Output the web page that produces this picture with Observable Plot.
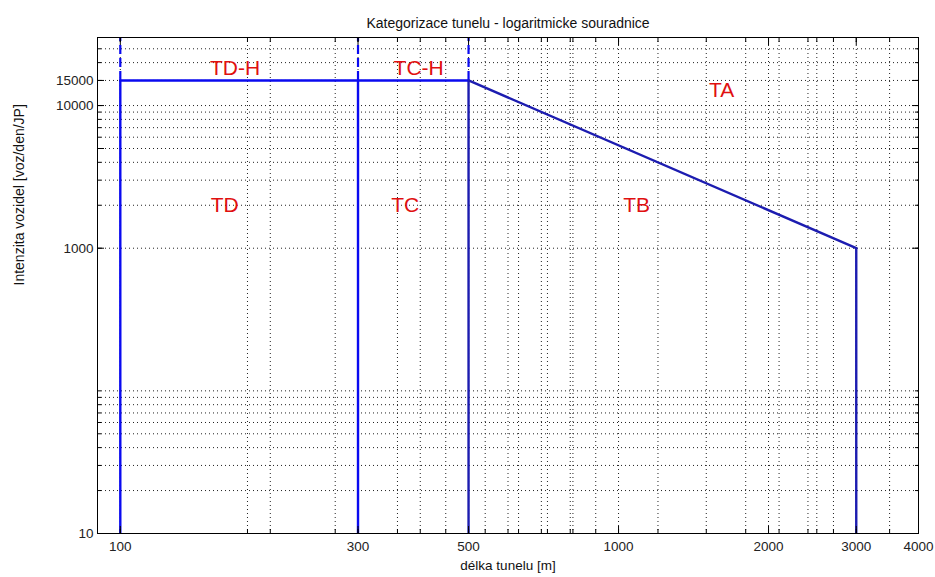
<!DOCTYPE html>
<html>
<head>
<meta charset="utf-8">
<script src="https://cdn.jsdelivr.net/npm/d3@7"></script>
<script src="https://cdn.jsdelivr.net/npm/@observablehq/plot@0.6"></script>
<style>
  html, body { margin: 0; padding: 0; background: #fff; }
  #chart svg { display: block; }
</style>
</head>
<body>
<div id="chart"></div>
<script>
// ---- data ----
const titleText = "Kategorizace tunelu - logaritmicke souradnice";
const xLabel = "délka tunelu [m]";
const yLabel = "Intenzita vozidel [voz/den/JP]";

const xDomain = [90, 4000];
const yDomain = [10, 30000];

const xTickLabels = [100, 300, 500, 1000, 2000, 3000, 4000];
const yTickLabels = [10, 1000, 5000, 10000, 15000];

const xGrid = [100, 180, 200, 270, 300, 360, 400, 450, 500, 540, 600, 630, 700, 720, 800, 810, 900,
               1000, 1200, 1500, 1800, 2000, 2100, 2400, 2500, 2700, 3000, 3500];
const yGrid = [20, 30, 40, 50, 60, 70, 80, 90, 100,
               1000, 2000, 3000, 4000, 5000, 6000, 7000, 8000, 9000, 10000, 15000, 20000, 25000];

// boundary lines
const boundX = [100, 300, 500];         // vertical limits
const boundLow = 10;                      // bottom of verticals
const boundHigh = 15000;                  // top of solid verticals
const boundTop = 30000;                   // dashed continuation
const capX = [100, 500];                  // horizontal at 15000
const capY = [15000, 15000];
const slopeX = [500, 3000];
const slopeY = [15000, 1000];
const endX = [3000];
const endY1 = [10];
const endY2 = [1000];

// zone labels
const zoneNames = ["TD-H", "TC-H", "TA", "TD", "TC", "TB"];
const zoneX = [170, 397, 1610, 162, 373, 1087];
const zoneY = [18200, 18200, 12800, 2000, 2000, 2000];

// ---- build ----
const zones = zoneNames.map((n, i) => ({name: n, x: zoneX[i], y: zoneY[i]}));
const verts = boundX.map(x => ({x, y1: boundLow, y2: boundHigh, y3: boundTop}));
const cap = capX.map((x, i) => ({x, y: capY[i]}));
const slope = slopeX.map((x, i) => ({x, y: slopeY[i]}));
const ends = endX.map((x, i) => ({x, y1: endY1[i], y2: endY2[i]}));

const font = "Liberation Sans, Arial, Helvetica, sans-serif";
const blue = "#0a0af0";
const navy = "#1c1cb0";
const gridStyle = {stroke: "#222", strokeDasharray: "1,3", strokeWidth: 1};
const tickStyle = {tickFormat: () => "", stroke: "#000", label: null};

const chart = Plot.plot({
  width: 935,
  height: 577,
  marginTop: 37,
  marginBottom: 44,
  marginLeft: 97,
  marginRight: 17,
  style: {fontFamily: font, background: "#fff", color: "#222"},
  x: {type: "log", domain: xDomain, axis: null},
  y: {type: "log", domain: yDomain, axis: null},
  marks: [
    Plot.ruleX(xGrid, {x: d => d, ...gridStyle}),
    Plot.ruleY(yGrid, {y: d => d, ...gridStyle}),
    // dashed upper continuation
    Plot.ruleX(verts, {x: "x", y1: "y2", y2: "y3", stroke: blue, strokeWidth: 2.2, strokeDasharray: "9,4"}),
    // solid verticals
    Plot.ruleX(verts.slice(0, 2), {x: "x", y1: "y1", y2: "y2", stroke: blue, strokeWidth: 2.4}),
    Plot.ruleX(verts.slice(2), {x: "x", y1: "y1", y2: "y2", stroke: navy, strokeWidth: 2.4}),
    Plot.line(cap, {x: "x", y: "y", stroke: blue, strokeWidth: 2.4}),
    Plot.line(slope, {x: "x", y: "y", stroke: navy, strokeWidth: 2.4}),
    Plot.ruleX(ends, {x: "x", y1: "y1", y2: "y2", stroke: navy, strokeWidth: 2.4}),
    // zone labels
    Plot.text(zones, {x: "x", y: "y", text: "name", fill: "#e01010", fontSize: 21, fontFamily: font}),
    // frame
    Plot.frame({stroke: "#000", strokeWidth: 1}),
    // inward ticks
    Plot.axisX(xGrid, {anchor: "bottom", tickSize: -4, ...tickStyle}),
    Plot.axisX(xGrid, {anchor: "top", tickSize: -4, ...tickStyle}),
    Plot.axisX(xTickLabels, {anchor: "bottom", tickSize: -7, ...tickStyle}),
    Plot.axisX(xTickLabels, {anchor: "top", tickSize: -7, ...tickStyle}),
    Plot.axisY(yGrid, {anchor: "left", tickSize: -4, ...tickStyle}),
    Plot.axisY(yGrid, {anchor: "right", tickSize: -4, ...tickStyle}),
    Plot.axisY(yTickLabels, {anchor: "left", tickSize: -7, ...tickStyle}),
    Plot.axisY(yTickLabels, {anchor: "right", tickSize: -7, ...tickStyle}),
    // tick labels
    Plot.axisX(xTickLabels, {anchor: "bottom", tickSize: 0, tickPadding: 8, tickFormat: d => String(d), fontSize: 13.5, fill: "#222", label: null}),
    Plot.axisY(yTickLabels, {anchor: "left", tickSize: 0, tickPadding: 4, tickFormat: d => String(d), fontSize: 13.5, fill: "#222", label: null}),
    // titles
    Plot.text([titleText], {frameAnchor: "top", dy: -19, fontSize: 14, fill: "#111", fontFamily: font}),
    Plot.text([xLabel], {frameAnchor: "bottom", dy: 36, fontSize: 13.5, fill: "#111", fontFamily: font}),
    Plot.text([yLabel], {frameAnchor: "left", dx: -78, rotate: -90, fontSize: 14, fill: "#111", fontFamily: font})
  ]
});
document.getElementById("chart").appendChild(chart);
</script>
</body>
</html>
